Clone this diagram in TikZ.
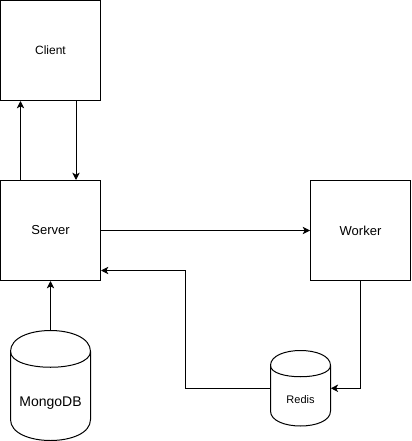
\documentclass[tikz,border=0pt]{standalone}
\usepackage{fontspec}
\setmainfont{Liberation Sans}
\usetikzlibrary{arrows.meta,calc}
\begin{document}
\begin{tikzpicture}[x=0.75pt,y=-0.75pt,
  box/.style={draw=black,line width=0.75pt,minimum width=75pt,minimum height=75pt,inner sep=0pt},
  area/.style={draw=none,inner sep=0pt},
  cyl/.style={draw=black,line width=0.75pt},
  conn/.style={draw=black,line width=0.75pt,-{Stealth[length=5.5pt,width=5.5pt,inset=1.5pt]}},
  txtsmall/.style={font=\fontsize{9}{11}\selectfont},
  txtmid/.style={font=\fontsize{9.75}{12}\selectfont}]
\useasboundingbox (0,0) rectangle (411,441);
% boxes
\node[box,txtsmall] (client) at (50.5,50.5) {Client};
\node[box,txtmid] (server) at (50.5,230.5) {Server};
\node[box,txtmid] (worker) at (360.5,230.5) {Worker};
% cylinder areas
\node[area,minimum width=60pt,minimum height=82.5pt] (mongo) at (50.5,385.5) {};
\node[area,minimum width=45pt,minimum height=56.625pt] (redis) at (300.5,388.25) {};
% MongoDB cylinder
\draw[cyl] (10.5,351.5) .. controls (10.5,323.5) and (90.5,323.5) .. (90.5,351.5)
  -- (90.5,419.5) .. controls (90.5,447.5) and (10.5,447.5) .. (10.5,419.5) -- cycle;
\draw[cyl] (10.5,351.5) .. controls (10.5,372.5) and (90.5,372.5) .. (90.5,351.5);
\node[font=\fontsize{10.5}{12}\selectfont] (mongotxt) at (50.5,403) {MongoDB};
% Redis cylinder
\draw[cyl] (270.5,365.5) .. controls (270.5,345.5) and (330.5,345.5) .. (330.5,365.5)
  -- (330.5,411) .. controls (330.5,431) and (270.5,431) .. (270.5,411) -- cycle;
\draw[cyl] (270.5,365.5) .. controls (270.5,380.5) and (330.5,380.5) .. (330.5,365.5);
\node[font=\fontsize{8.25}{10}\selectfont] (redistxt) at (300.5,400) {Redis};
% connectors
\draw[conn] ($(server.north)+(-30,0)$) -- ($(client.south)+(-30,0)$);
\draw[conn] ($(client.south)+(25.5,0)$) -- ($(server.north)+(25.5,0)$);
\draw[conn] (server.east) -- (worker.west);
\draw[conn] (worker.south) |- (redis.east);
\coordinate (bend) at (185.5,270.5);
\draw[conn] (redis.west) -| (bend) -- (bend -| server.east);
\draw[conn] (mongo.north) -- (server.south);
\end{tikzpicture}
\end{document}
